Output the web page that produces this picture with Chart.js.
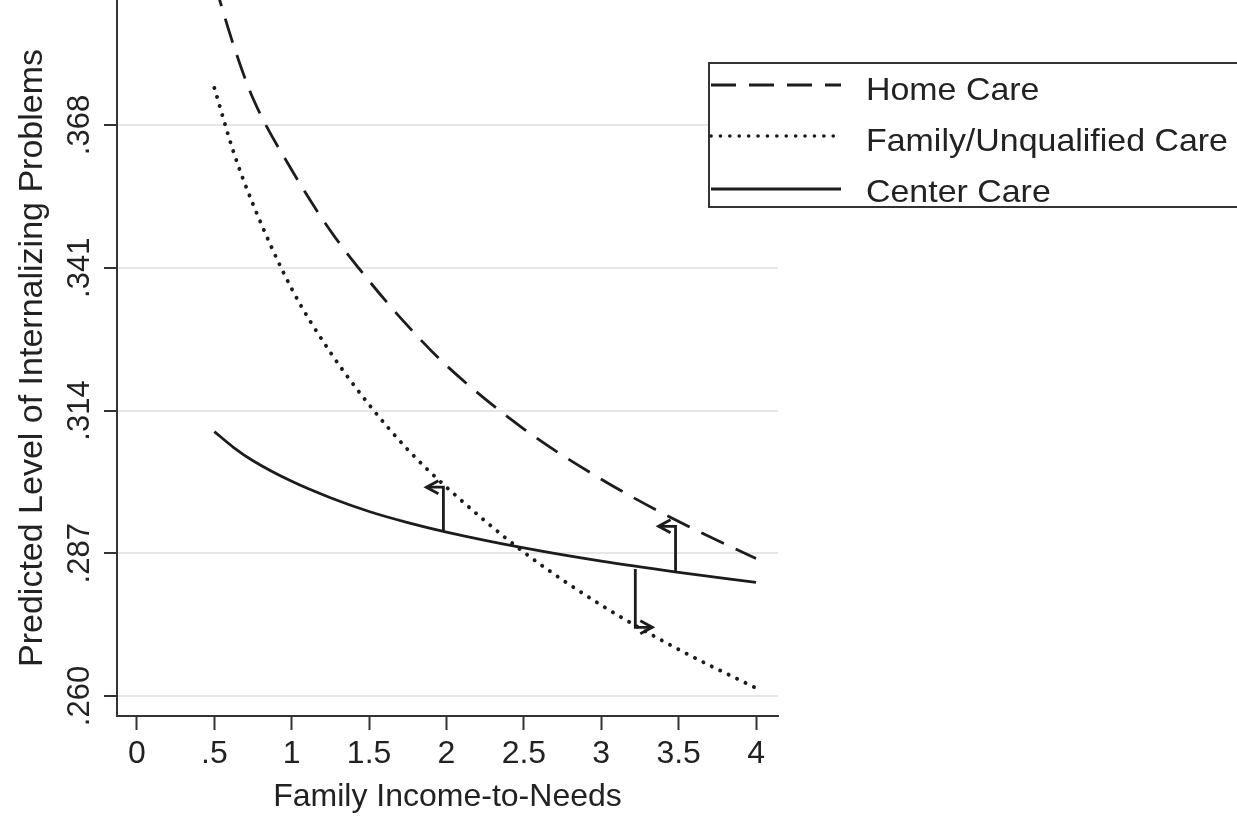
<!DOCTYPE html>
<html>
<head>
<meta charset="utf-8">
<script src="https://cdn.jsdelivr.net/npm/chart.js@4.4.1/dist/chart.umd.min.js"></script>
<style>
  html, body { margin: 0; padding: 0; background: #fff; }
  #wrap { width: 1237px; height: 817px; }
</style>
</head>
<body>
<div id="wrap"><canvas id="myChart" width="1237" height="817"></canvas></div>
<script>
// values
const incomeToNeeds = [0.5, 0.625, 0.75, 1, 1.25, 1.5, 1.75, 2, 2.5, 3, 3.5, 4];
const homeCare   = [0.395, 0.383, 0.373, 0.3595, 0.348, 0.3385, 0.330, 0.3225, 0.3105, 0.301, 0.293, 0.286];
const familyCare = [0.375, 0.3628, 0.353, 0.337, 0.325, 0.3151, 0.3066, 0.2995, 0.2872, 0.2772, 0.2688, 0.2615];
const centerCare = [0.310, 0.3070, 0.3045, 0.3006, 0.2975, 0.2949, 0.2928, 0.2910, 0.2880, 0.2855, 0.2834, 0.2815];
const seriesLabels = ['Home Care', 'Family/Unqualified Care', 'Center Care'];

const xTicks = [0, 0.5, 1, 1.5, 2, 2.5, 3, 3.5, 4];
const yTicks = [0.260, 0.287, 0.314, 0.341, 0.368];

// the three little arrows (x position, start level, end level, side of the head)
const arrowX    = [1.98, 3.48, 3.22];
const arrowFrom = [0.2911, 0.2833, 0.2840];
const arrowTo   = [0.2995, 0.2921, 0.2730];
const arrowSide = [-1, -1, 1];

const ink = '#1c1c1c';
const fontFam = '"Liberation Sans", Arial, sans-serif';

const toPoints = (ys) => incomeToNeeds.map((x, i) => ({ x: x, y: ys[i] }));
const fmtX = (v) => (v === 0 ? '0' : String(v).replace(/^0\./, '.'));
const fmtY = (v) => v.toFixed(3).replace(/^0/, '');

const lineBase = {
    borderColor: ink,
    borderWidth: 2.8,
    pointRadius: 0,
    fill: false,
    cubicInterpolationMode: 'monotone'
};

const yTickLabels = {
    id: 'yTickLabels',
    afterDraw(chart) {
        const { ctx } = chart;
        const ys = chart.scales.y;
        ctx.save();
        ctx.font = '31px ' + fontFam;
        ctx.fillStyle = '#222';
        ctx.textAlign = 'center';
        ctx.textBaseline = 'alphabetic';
        yTicks.forEach(v => {
            ctx.save();
            ctx.translate(89, ys.getPixelForValue(v));
            ctx.rotate(-Math.PI / 2);
            ctx.fillText(fmtY(v), 0, 0);
            ctx.restore();
        });
        ctx.restore();
    }
};

const arrows = {
    id: 'arrows',
    afterDatasetsDraw(chart) {
        const { ctx } = chart;
        const xs = chart.scales.x, ys = chart.scales.y;
        ctx.save();
        ctx.strokeStyle = ink;
        ctx.lineWidth = 2.8;
        ctx.lineCap = 'butt';
        arrowX.forEach((xv, i) => {
            const px = xs.getPixelForValue(xv);
            const y0 = ys.getPixelForValue(arrowFrom[i]);
            const y1 = ys.getPixelForValue(arrowTo[i]);
            const tip = px + arrowSide[i] * 17;
            ctx.beginPath();
            ctx.moveTo(px, y0);
            ctx.lineTo(px, y1);
            ctx.lineTo(tip, y1);
            ctx.stroke();
            ctx.beginPath();
            ctx.moveTo(tip - arrowSide[i] * 12, y1 - 6.5);
            ctx.lineTo(tip, y1);
            ctx.lineTo(tip - arrowSide[i] * 12, y1 + 6.5);
            ctx.stroke();
        });
        ctx.restore();
    }
};

const keyBox = {
    id: 'keyBox',
    afterDraw(chart) {
        const { ctx } = chart;
        const sampleY = [85, 136, 189];
        const textY = [100, 151, 202];
        const dashes = [[25, 13], [0.1, 9.3], []];
        ctx.save();
        ctx.fillStyle = '#fff';
        ctx.strokeStyle = '#333';
        ctx.lineWidth = 2;
        ctx.fillRect(709, 63, 600, 144);
        ctx.strokeRect(709, 63, 600, 144);
        seriesLabels.forEach((lab, i) => {
            ctx.beginPath();
            ctx.setLineDash(dashes[i]);
            ctx.lineWidth = i === 1 ? 3.6 : 2.8;
            ctx.lineCap = i === 1 ? 'round' : 'butt';
            ctx.strokeStyle = ink;
            ctx.moveTo(711, sampleY[i]);
            ctx.lineTo(841, sampleY[i]);
            ctx.stroke();
            ctx.setLineDash([]);
            ctx.save();
            ctx.translate(866, textY[i]);
            ctx.scale(1.06, 1);
            ctx.font = '32px ' + fontFam;
            ctx.fillStyle = '#222';
            ctx.textBaseline = 'alphabetic';
            ctx.fillText(lab, 0, 0);
            ctx.restore();
        });
        ctx.restore();
    }
};

const ctx = document.getElementById('myChart').getContext('2d');

const myChart = new Chart(ctx, {
    type: 'line',
    data: {
        datasets: [
            Object.assign({}, lineBase, {
                label: seriesLabels[0],
                data: toPoints(homeCare),
                borderDash: [25, 13]
            }),
            Object.assign({}, lineBase, {
                label: seriesLabels[1],
                data: toPoints(familyCare),
                borderDash: [0.1, 9.3],
                borderCapStyle: 'round',
                borderWidth: 3.9
            }),
            Object.assign({}, lineBase, {
                label: seriesLabels[2],
                data: toPoints(centerCare)
            })
        ]
    },
    options: {
        responsive: false,
        animation: false,
        layout: { padding: { top: 0, left: 0, bottom: 0, right: 459 } },
        plugins: {
            legend: { display: false },
            tooltip: { enabled: false }
        },
        scales: {
            x: {
                type: 'linear',
                min: -0.129,
                max: 4.142,
                afterBuildTicks: (s) => { s.ticks = xTicks.map(v => ({ value: v })); },
                afterFit: (s) => { s.height = 101; },
                ticks: {
                    callback: (v) => fmtX(v),
                    color: '#222',
                    font: { size: 32, family: fontFam },
                    padding: 5,
                    maxRotation: 0,
                    autoSkip: false
                },
                grid: {
                    drawOnChartArea: false,
                    drawTicks: true,
                    tickLength: 14,
                    tickWidth: 2,
                    tickColor: '#333'
                },
                border: { color: '#333', width: 2 },
                title: {
                    display: true,
                    text: 'Family Income-to-Needs',
                    color: '#222',
                    font: { size: 32, family: fontFam },
                    padding: { top: 0, bottom: 1 }
                }
            },
            y: {
                type: 'linear',
                min: 0.25622,
                max: 0.39164,
                afterBuildTicks: (s) => { s.ticks = yTicks.map(v => ({ value: v })); },
                afterFit: (s) => { s.width = 117; },
                ticks: { display: false },
                grid: {
                    color: '#e6e6e6',
                    lineWidth: 2,
                    drawTicks: true,
                    tickLength: 13,
                    tickWidth: 2,
                    tickColor: '#333'
                },
                border: { color: '#333', width: 2 },
                title: {
                    display: true,
                    text: 'Predicted Level of Internalizing Problems',
                    color: '#222',
                    font: { size: 34, family: fontFam },
                    padding: { top: 12, bottom: 0 }
                }
            }
        }
    },
    plugins: [yTickLabels, arrows, keyBox]
});
</script>
</body>
</html>
